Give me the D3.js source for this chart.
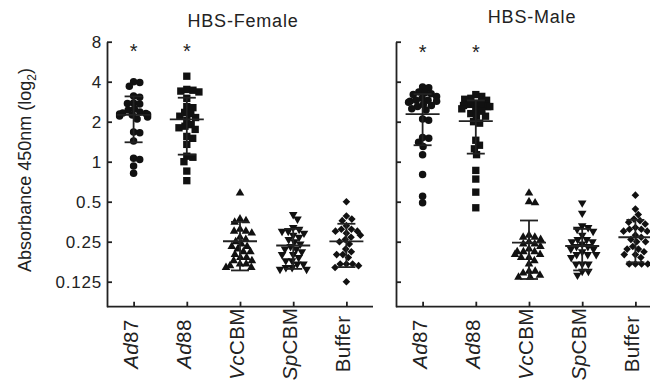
<!DOCTYPE html>
<html>
<head>
<meta charset="utf-8">
<script src="https://cdn.jsdelivr.net/npm/d3@7"></script>
<style>
  body { margin: 0; background: #fff; }
  svg { display: block; font-family: 'Liberation Sans', Arial, sans-serif; }
</style>
</head>
<body>
<svg id="chart" width="650" height="381"></svg>
<script>
// categories + tick values
const groups = ['Ad87', 'Ad88', 'VcCBM', 'SpCBM', 'Buffer']
const yTicks = [8, 4, 2, 1, 0.5, 0.25, 0.125]
const starred = ['Ad87', 'Ad88']

// HBS-Female values
const femaleAd87 = [4.0, 3.95, 3.7, 3.12, 3.05, 2.77, 2.74, 2.72, 2.49, 2.45, 2.37, 2.33, 2.31, 2.29, 2.27, 2.25, 2.21, 2.17, 2.1, 1.67, 1.65, 1.43, 1.06, 1.04, 0.93, 0.82]
const femaleAd88 = [4.4, 3.5, 3.45, 3.4, 3.35, 3.0, 2.6, 2.55, 2.35, 2.3, 2.2, 2.15, 2.05, 1.9, 1.85, 1.8, 1.75, 1.55, 1.5, 1.35, 1.1, 1.08, 1.0, 0.85, 0.72]
const femaleVcCBM = [0.58, 0.37, 0.36, 0.35, 0.31, 0.30, 0.30, 0.29, 0.27, 0.26, 0.25, 0.24, 0.23, 0.23, 0.22, 0.21, 0.21, 0.20, 0.19, 0.19, 0.18, 0.18, 0.17, 0.17, 0.165, 0.16, 0.16]
const femaleSpCBM = [0.40, 0.37, 0.32, 0.31, 0.30, 0.30, 0.29, 0.28, 0.27, 0.26, 0.25, 0.24, 0.23, 0.22, 0.22, 0.21, 0.20, 0.20, 0.19, 0.18, 0.18, 0.17, 0.17, 0.16, 0.16, 0.155, 0.155]
const femaleBuffer = [0.50, 0.39, 0.37, 0.36, 0.33, 0.31, 0.31, 0.30, 0.30, 0.29, 0.28, 0.27, 0.26, 0.25, 0.24, 0.22, 0.21, 0.20, 0.20, 0.19, 0.17, 0.17, 0.17, 0.165, 0.16, 0.125]
const femaleMean = [2.25, 2.08, 0.252, 0.234, 0.251]
const femaleSD = [0.85, 0.95, 0.10, 0.078, 0.09]

// HBS-Male values
const maleAd87 = [3.65, 3.6, 3.35, 3.3, 3.25, 3.2, 3.1, 3.0, 2.9, 2.9, 2.85, 2.85, 2.8, 2.7, 2.65, 2.6, 2.5, 2.45, 2.1, 2.05, 1.52, 1.5, 1.4, 1.3, 1.13, 0.8, 0.55, 0.49]
const maleAd88 = [3.2, 3.1, 3.0, 2.95, 2.9, 2.75, 2.7, 2.7, 2.65, 2.6, 2.6, 2.5, 2.45, 2.4, 2.3, 2.2, 2.2, 2.0, 1.95, 1.45, 1.33, 1.25, 1.13, 0.86, 0.74, 0.59, 0.45]
const maleVcCBM = [0.58, 0.50, 0.49, 0.28, 0.27, 0.27, 0.26, 0.25, 0.24, 0.24, 0.23, 0.22, 0.21, 0.21, 0.21, 0.20, 0.20, 0.19, 0.19, 0.18, 0.17, 0.15, 0.15, 0.145, 0.14, 0.135, 0.135]
const maleSpCBM = [0.49, 0.41, 0.33, 0.32, 0.31, 0.30, 0.28, 0.26, 0.26, 0.25, 0.25, 0.24, 0.23, 0.23, 0.22, 0.22, 0.21, 0.20, 0.20, 0.20, 0.19, 0.17, 0.17, 0.17, 0.15, 0.15, 0.14]
const maleBuffer = [0.56, 0.44, 0.40, 0.37, 0.36, 0.35, 0.34, 0.32, 0.31, 0.31, 0.30, 0.30, 0.28, 0.27, 0.26, 0.25, 0.25, 0.23, 0.22, 0.22, 0.21, 0.20, 0.20, 0.19, 0.17, 0.17, 0.17, 0.17]
const maleMean = [2.28, 2.02, 0.246, 0.232, 0.27]
const maleSD = [0.95, 0.87, 0.115, 0.08, 0.095]

const panels = [
  { title: 'HBS-Female', left: 107, right: 373, titleX: 243, titleY: 27, starY: 57.5, labels: true,
    values: [femaleAd87, femaleAd88, femaleVcCBM, femaleSpCBM, femaleBuffer], mean: femaleMean, sd: femaleSD },
  { title: 'HBS-Male', left: 396, right: 662, titleX: 532, titleY: 23, starY: 59, labels: false,
    values: [maleAd87, maleAd88, maleVcCBM, maleSpCBM, maleBuffer], mean: maleMean, sd: maleSD }
]

const plotTop = 41.7, plotBottom = 306.7
const svg = d3.select('#chart')

const yScale = d3.scaleLog().base(2)
  .domain([Math.pow(2, -3.625), 8])
  .range([plotBottom, plotTop])

// marker shapes per group
const shapes = [
  { type: d3.symbolCircle, size: 44, rot: 0 },
  { type: d3.symbolSquare, size: 54, rot: 0 },
  { type: d3.symbolTriangle, size: 32, rot: 0 },
  { type: d3.symbolTriangle, size: 32, rot: 180 },
  { type: d3.symbolSquare, size: 29, rot: 45 }
]

// simple beeswarm: put each point as near the centre as it fits
function swarm(values, D, maxOff) {
  const pts = values.map(v => ({ v, y: yScale(v) })).sort((a, b) => a.y - b.y)
  const placed = []
  pts.forEach(p => {
    const near = placed.filter(q => Math.abs(q.y - p.y) < D)
    const cands = [0]
    near.forEach(q => {
      const dx = Math.sqrt(D * D - (q.y - p.y) ** 2)
      cands.push(q.dx + dx, q.dx - dx)
    })
    cands.sort((a, b) => Math.abs(a) - Math.abs(b))
    const ok = cands.find(c => near.every(q => (q.dx - c) ** 2 + (q.y - p.y) ** 2 >= D * D - 0.01))
    p.dx = Math.max(-maxOff, Math.min(maxOff, ok))
    placed.push(p)
  })
  return pts
}

panels.forEach(panel => {
  const x = d3.scalePoint().domain(groups).range([panel.left, panel.right]).padding(0.5)
  const g = svg.append('g')

  // y axis
  const yAxis = g.append('g')
    .attr('transform', `translate(${panel.left},0)`)
    .call(d3.axisLeft(yScale).tickValues(yTicks)
      .tickSizeInner(-5).tickSizeOuter(0).tickPadding(5)
      .tickFormat(d => panel.labels ? String(d) : ''))
  yAxis.selectAll('path, line').attr('stroke', '#222').attr('stroke-width', 1.8)
  yAxis.selectAll('text')
    .attr('fill', '#222')
    .style('font-size', '17px')
    .style('letter-spacing', '0.8px')
    .attr('font-family', null)

  // x axis
  const xAxis = g.append('g')
    .attr('transform', `translate(0,${plotBottom})`)
    .call(d3.axisBottom(x).tickSizeInner(-5).tickSizeOuter(0).tickFormat(''))
  xAxis.select('.domain').attr('d', `M${panel.left},0H${panel.right}`)
  xAxis.selectAll('path, line').attr('stroke', '#222').attr('stroke-width', 1.8)

  // rotated category labels, italic genus prefix
  groups.forEach(name => {
    const t = g.append('text')
      .attr('transform', `translate(${x(name) + 4},344) rotate(-90)`)
      .attr('text-anchor', 'middle')
      .attr('fill', '#222')
      .style('font-size', '20.5px')
      .style('letter-spacing', '0.4px')
    const italic = name === 'Buffer' ? '' : name.slice(0, 2)
    if (italic) t.append('tspan').style('font-style', 'italic').text(italic)
    t.append('tspan').text(name.slice(italic.length))
  })

  // panel title
  g.append('text')
    .attr('x', panel.titleX).attr('y', panel.titleY)
    .attr('text-anchor', 'middle')
    .attr('fill', '#222')
    .style('font-size', '18px')
    .style('letter-spacing', '0.8px')
    .text(panel.title)

  // significance stars
  starred.forEach(name => {
    g.append('text')
      .attr('x', x(name)).attr('y', panel.starY)
      .attr('text-anchor', 'middle')
      .attr('fill', '#222')
      .style('font-size', '20px')
      .text('*')
  })

  // points
  groups.forEach((name, i) => {
    const s = shapes[i]
    const sym = d3.symbol().type(s.type).size(s.size)
    g.append('g').selectAll('path')
      .data(swarm(panel.values[i], 6.2, 14))
      .join('path')
      .attr('d', sym)
      .attr('transform', d => `translate(${x(name) + d.dx},${d.y}) rotate(${s.rot})`)
      .attr('fill', '#111')
  })

  // mean +/- SD
  groups.forEach((name, i) => {
    const cx = x(name)
    const m = panel.mean[i], sd = panel.sd[i]
    const eg = g.append('g').attr('stroke', '#222').attr('stroke-width', 1.8)
    eg.append('line').attr('x1', cx).attr('x2', cx).attr('y1', yScale(m + sd)).attr('y2', yScale(m - sd))
    eg.append('line').attr('x1', cx - 17).attr('x2', cx + 17).attr('y1', yScale(m)).attr('y2', yScale(m))
    eg.append('line').attr('x1', cx - 9).attr('x2', cx + 9).attr('y1', yScale(m + sd)).attr('y2', yScale(m + sd))
    eg.append('line').attr('x1', cx - 9).attr('x2', cx + 9).attr('y1', yScale(m - sd)).attr('y2', yScale(m - sd))
  })
})

// y axis title
const yTitle = svg.append('text')
  .attr('transform', 'translate(31,170) rotate(-90)')
  .attr('text-anchor', 'middle')
  .attr('fill', '#222')
  .style('font-size', '18px')
yTitle.append('tspan').text('Absorbance 450nm (log')
yTitle.append('tspan').attr('dy', 5).style('font-size', '12px').text('2')
yTitle.append('tspan').attr('dy', -5).text(')')
</script>
</body>
</html>
